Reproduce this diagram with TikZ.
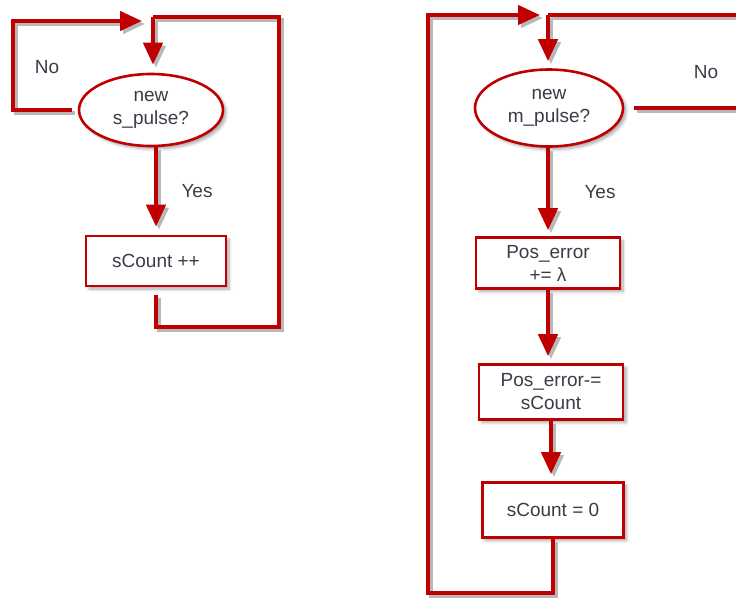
\documentclass[tikz,border=0pt]{standalone}
\usepackage{fontspec}
\setmainfont{Liberation Sans}
\usetikzlibrary{arrows.meta,shapes.geometric,shadows.blur}
\definecolor{flowred}{RGB}{192,0,0}
\definecolor{inkgray}{RGB}{58,60,72}
\tikzset{
  x=1pt, y=-1pt,
  softshadow/.style={blur shadow={shadow xshift=3pt, shadow yshift=-3pt,
    shadow blur radius=3pt, shadow blur steps=6, shadow opacity=35}},
  decision/.style={ellipse, draw=flowred, line width=2.6pt, fill=white, softshadow,
    inner sep=0pt, text=inkgray, align=center,
    font=\fontsize{19}{23}\selectfont},
  process/.style={rectangle, draw=flowred, line width=2.6pt, fill=white, softshadow,
    inner sep=0pt, text=inkgray, align=center,
    font=\fontsize{19}{23}\selectfont},
  lbl/.style={text=inkgray, font=\fontsize{19}{23}\selectfont},
  wire/.style={draw=flowred, line width=4.5pt,
    preaction={draw=black!28, line width=4.5pt, transform canvas={shift={(3pt,-3pt)}}}},
  flow/.style={wire, -{Triangle[width=19pt,length=22pt]}},
}
\begin{document}
\begin{tikzpicture}
\useasboundingbox (0,0) rectangle (736,598);

% ---- sensor pulse counter ----
\node[decision, minimum width=144pt, minimum height=72pt] (sp) at (151,110) {new\\s\_pulse?};
\node[process, minimum width=140pt, minimum height=50pt] (sc) at (156,261) {sCount ++};
\node[lbl] (yesL) at (197,191) {Yes};
\node[lbl] (noL) at (47,67) {No};

\coordinate (lb) at (279,327);
\coordinate (lt) at (153,17);
\coordinate (lo) at (13,21);
\coordinate (lj) at (142,21);

\draw[flow, shorten >=8pt] (sp.south -| sc.north) -- (sc.north);
\draw[wire, shorten <=8pt] (sc.south) |- (lb) |- (lt);
\draw[flow, shorten >=8pt] (lt) -- (lt |- sp.north);
\draw[flow, shorten <=6pt] (sp.west) -| (lo) -- (lj);

% ---- motor pulse handler ----
\node[decision, minimum width=148pt, minimum height=77pt] (mp) at (549,108) {new\\m\_pulse?};
\node[process, minimum width=144pt, minimum height=51pt] (b1) at (548,263) {Pos\_error\\+= λ};
\node[process, minimum width=144pt, minimum height=55pt] (b2) at (551,392) {Pos\_error-=\\sCount};
\node[process, minimum width=141pt, minimum height=55pt] (b3) at (553,510) {sCount = 0};
\node[lbl] (yesR) at (600,192) {Yes};
\node[lbl] (noR) at (706,72) {No};

\coordinate (rt) at (548,15);
\coordinate (re) at (736,15);
\coordinate (rn) at (736,110);
\coordinate (rb) at (428,593);
\coordinate (rj) at (540,15);

\draw[wire] (re) -- (rt);
\draw[flow, shorten >=7pt] (rt) -- (rt |- mp.north);
\draw[wire, shorten <=10pt] (mp.east) -- (mp.east -| rn);
\draw[flow, shorten >=6pt] (mp.south -| b1.north) -- (b1.north);
\draw[flow, shorten >=7pt] (b1.south) -- (b1.south |- b2.north);
\draw[flow, shorten >=7pt] (b2.south) -- (b2.south |- b3.north);
\draw[flow] (b3.south) |- (rb) |- (rj);
\end{tikzpicture}
\end{document}
